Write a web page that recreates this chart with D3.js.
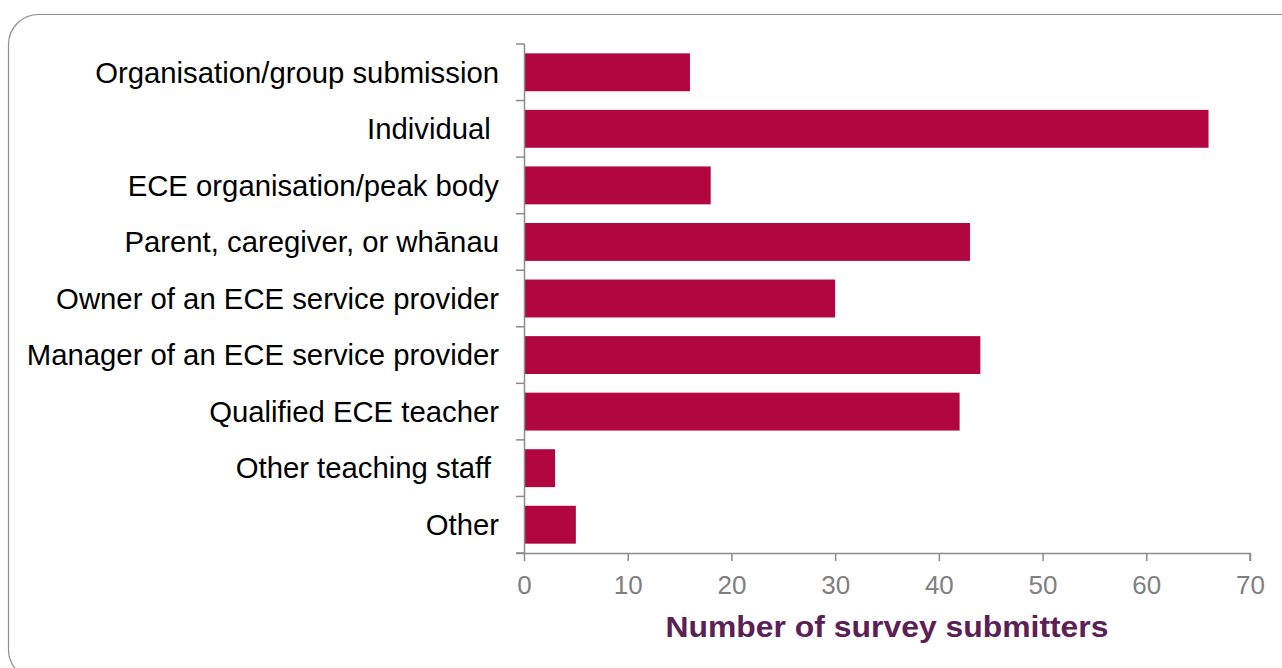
<!DOCTYPE html>
<html>
<head>
<meta charset="utf-8">
<script src="https://cdn.jsdelivr.net/npm/d3@7"></script>
<style>
  body { margin: 0; background: #fff; }
  svg { display: block; }
  text { font-family: "Liberation Sans", Arial, sans-serif; white-space: pre; }
</style>
</head>
<body>
<svg id="chart" width="1282" height="668"></svg>
<script>
// data
var categories = [
  'Organisation/group submission',
  'Individual ',
  'ECE organisation/peak body',
  'Parent, caregiver, or wh\u0101nau',
  'Owner of an ECE service provider',
  'Manager of an ECE service provider',
  'Qualified ECE teacher',
  'Other teaching staff ',
  'Other'
]
var counts = [16, 66, 18, 43, 30, 44, 42, 3, 5]
var xTicks = [0, 10, 20, 30, 40, 50, 60, 70]
var xTitle = 'Number of survey submitters'

var svg = d3.select('#chart')

// rounded frame, runs off the right and bottom edges
svg.append('rect')
  .attr('x', 8.5).attr('y', 14.5)
  .attr('width', 1320).attr('height', 665)
  .attr('rx', 30).attr('ry', 30)
  .attr('fill', 'none')
  .attr('stroke', '#8f8a93')
  .attr('stroke-width', 1.2)

var plot = { left: 524, right: 1250, top: 44, bottom: 553 }

var x = d3.scaleLinear().domain([0, 70]).range([plot.left, plot.right])
var y = d3.scaleBand().domain(categories).range([plot.top, plot.bottom]).paddingInner(0.33).paddingOuter(0.165)

var data = categories.map((c, i) => ({ cat: c, v: counts[i] }))

svg.append('g').selectAll('rect')
  .data(data)
  .join('rect')
  .attr('x', x(0))
  .attr('y', d => y(d.cat))
  .attr('width', d => x(d.v) - x(0))
  .attr('height', y.bandwidth())
  .attr('fill', '#b20641')

var axisColor = '#8c8c8c'

// y axis line + category separators
var step = (plot.bottom - plot.top) / categories.length
var yAx = svg.append('g')
yAx.append('line')
  .attr('x1', plot.left + 0.5).attr('x2', plot.left + 0.5)
  .attr('y1', plot.top).attr('y2', plot.bottom)
  .attr('stroke', axisColor).attr('stroke-width', 1.5)
yAx.selectAll('line.tk')
  .data(d3.range(categories.length + 1))
  .join('line')
  .attr('class', 'tk')
  .attr('x1', plot.left - 8).attr('x2', plot.left + 0.5)
  .attr('y1', i => plot.top + i * step).attr('y2', i => plot.top + i * step)
  .attr('stroke', axisColor).attr('stroke-width', 1.5)

yAx.selectAll('text')
  .data(categories)
  .join('text')
  .attr('x', plot.left - 25)
  .attr('y', d => y(d) + y.bandwidth() / 2)
  .attr('dy', '0.35em')
  .attr('text-anchor', 'end')
  .attr('font-size', 29.3)
  .attr('fill', '#000')
  .text(d => d)

// x axis
var xAxis = d3.axisBottom(x).tickValues(xTicks).tickSize(8).tickPadding(0)
var gx = svg.append('g')
  .attr('transform', `translate(0,${plot.bottom})`)
  .call(xAxis)
gx.select('.domain').attr('stroke', axisColor).attr('stroke-width', 1.5)
  .attr('d', `M${plot.left - 8},0.5H${plot.right}V8`)
gx.selectAll('.tick line').attr('stroke', axisColor).attr('stroke-width', 1.5)
gx.selectAll('.tick text')
  .attr('y', 41)
  .attr('dy', null)
  .attr('fill', '#808080')
  .attr('font-size', 26)
  .attr('font-family', '"Liberation Sans", Arial, sans-serif')

svg.append('text')
  .attr('x', 887)
  .attr('y', 637)
  .attr('text-anchor', 'middle')
  .attr('font-size', 30)
  .attr('font-weight', 'bold')
  .attr('textLength', 443)
  .attr('lengthAdjust', 'spacingAndGlyphs')
  .attr('fill', '#5b2055')
  .text(xTitle)
</script>
</body>
</html>
